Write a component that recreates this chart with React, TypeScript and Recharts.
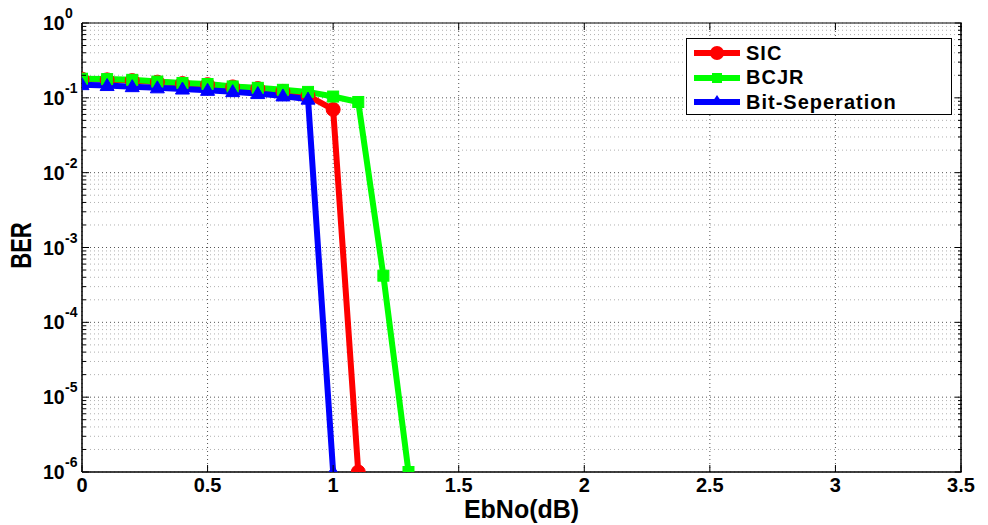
import React from 'react';
import { LineChart, Line, XAxis, YAxis, CartesianGrid, ReferenceLine, ReferenceArea } from 'recharts';

const ebno = [0, 0.1, 0.2, 0.3, 0.4, 0.5, 0.6, 0.7, 0.8, 0.9, 1.0, 1.1, 1.2, 1.3];
const sic = [0.178, 0.174, 0.17, 0.162, 0.155, 0.15, 0.14, 0.133, 0.122, 0.106, 0.07, 1e-6];
const bcjr = [0.18, 0.178, 0.174, 0.165, 0.158, 0.153, 0.142, 0.136, 0.128, 0.12, 0.104, 0.088, 4.2e-4, 1e-6];
const bitSep = [0.15, 0.146, 0.141, 0.136, 0.131, 0.126, 0.121, 0.114, 0.106, 0.096, 1e-6];

const xTicks = [0, 0.5, 1, 1.5, 2, 2.5, 3, 3.5];
const yTicks = [1e-6, 1e-5, 1e-4, 1e-3, 1e-2, 1e-1, 1];
const minorY: number[] = [];
for (let k = -6; k < 0; k++) {
  for (let m = 2; m <= 9; m++) minorY.push(m * Math.pow(10, k));
}
const allY = [...yTicks, ...minorY].sort((a, b) => a - b);

const data = ebno.map((x, i) => ({
  x,
  sic: i < sic.length ? sic[i] : undefined,
  bcjr: i < bcjr.length ? bcjr[i] : undefined,
  bit: i < bitSep.length ? bitSep[i] : undefined,
}));

const FONT = 'Liberation Sans, Arial, sans-serif';

const isMajor = (v: number) => Math.abs(Math.log10(v) - Math.round(Math.log10(v))) < 1e-6;

const YTick = (props: any) => {
  const { y, payload } = props;
  const ax = 82;
  const v = payload.value;
  const major = isMajor(v);
  const len = major ? 7 : 4;
  if (!major) {
    return <line x1={ax} y1={y} x2={ax + len} y2={y} stroke="#000" strokeWidth={1} />;
  }
  const e = Math.round(Math.log10(v));
  return (
    <g>
      <line x1={ax} y1={y} x2={ax + len} y2={y} stroke="#000" strokeWidth={1} />
      <text x={ax - 39} y={y + 7} textAnchor="start" fontFamily={FONT} fontWeight="bold" fontSize={19.5} fill="#000">10</text>
      <text x={ax - 17} y={y - 5} textAnchor="start" fontFamily={FONT} fontWeight="bold" fontSize={14} fill="#000">{e}</text>
    </g>
  );
};

const RTick = (props: any) => {
  const { y, payload } = props;
  const ax = 962;
  const len = isMajor(payload.value) ? 7 : 4;
  return <line x1={ax - len} y1={y} x2={ax} y2={y} stroke="#000" strokeWidth={1} />;
};

const XTick = (props: any) => {
  const { x, payload } = props;
  const ay = 472;
  return (
    <g>
      <line x1={x} y1={ay} x2={x} y2={ay - 7} stroke="#000" strokeWidth={1} />
      <line x1={x} y1={23} x2={x} y2={30} stroke="#000" strokeWidth={1} />
      <text x={x} y={ay + 20} textAnchor="middle" fontFamily={FONT} fontWeight="bold" fontSize={20} fill="#000">{String(payload.value)}</text>
    </g>
  );
};

const YLabel = (props: any) => {
  const vb = props.viewBox || {};
  const cy = (vb.y ?? 23) + (vb.height ?? 450) / 2;
  return (
    <text
      transform={`translate(31, ${cy - 2}) rotate(-90) scale(1, 1.3)`}
      textAnchor="middle"
      fontFamily={FONT}
      fontWeight="bold"
      fontSize={22}
      fill="#000"
    >
      BER
    </text>
  );
};

const Circle = (props: any) => {
  const { cx, cy } = props;
  if (cx == null || cy == null) return null;
  return <circle cx={cx} cy={cy} r={7} fill="#FF0000" stroke="#FF0000" />;
};
const Square = (props: any) => {
  const { cx, cy } = props;
  if (cx == null || cy == null) return null;
  return <rect x={cx - 5.5} y={cy - 5.5} width={11} height={11} fill="#00FF00" stroke="#00FF00" />;
};
const Tri = (props: any) => {
  const { cx, cy } = props;
  if (cx == null || cy == null) return null;
  return <polygon points={`${cx},${cy - 7} ${cx + 7},${cy + 5} ${cx - 7},${cy + 5}`} fill="#0000FF" stroke="#0000FF" />;
};

const legendItems = [
  { name: 'SIC', color: '#FF0000', shape: 'circle' },
  { name: 'BCJR', color: '#00FF00', shape: 'square' },
  { name: 'Bit-Seperation', color: '#0000FF', shape: 'tri' },
];

const LegendBox = () => (
  <div style={{ position: 'absolute', left: 686, top: 38, width: 266, height: 77, border: '1px solid #000', background: '#fff', boxSizing: 'border-box', paddingTop: 2 }}>
    {legendItems.map((it) => (
      <div key={it.name} style={{ display: 'flex', alignItems: 'center', height: 24.5 }}>
        <svg width={58} height={20} style={{ marginLeft: 7 }}>
          <line x1={0} y1={10} x2={46} y2={10} stroke={it.color} strokeWidth={6} />
          {it.shape === 'circle' && <circle cx={23} cy={10} r={7} fill={it.color} />}
          {it.shape === 'square' && <rect x={18} y={5} width={10} height={10} fill={it.color} />}
          {it.shape === 'tri' && <polygon points="23,3 29,12 17,12" fill={it.color} />}
        </svg>
        <span style={{ fontFamily: FONT, fontWeight: 'bold', fontSize: 20, letterSpacing: 1, color: '#000', marginLeft: -6 }}>{it.name}</span>
      </div>
    ))}
  </div>
);

export default function App() {
  return (
    <div style={{ position: 'absolute', left: 0, top: 0, width: 988, height: 525, background: '#fff' }}>
      <LineChart width={988} height={525} data={data} margin={{ top: 23, right: 26, left: 22, bottom: 0 }}>
        {minorY.map((v) => (
          <ReferenceLine key={v} yAxisId="left" y={v} stroke="#b0b0b0" strokeDasharray="1 3" strokeWidth={1} />
        ))}
        {yTicks.map((v) => (
          <ReferenceLine key={'M' + v} yAxisId="left" y={v} stroke="#555" strokeDasharray="1 3" strokeWidth={1} />
        ))}
        <CartesianGrid yAxisId="left" stroke="#555" strokeDasharray="1 3" horizontal={false} verticalValues={xTicks} />
        <XAxis
          dataKey="x"
          type="number"
          domain={[0, 3.5]}
          ticks={xTicks}
          height={53}
          tick={<XTick />}
          tickLine={false}
          axisLine={{ stroke: '#000' }}
          allowDataOverflow
          label={{ value: 'EbNo(dB)', position: 'insideBottom', offset: 7, style: { fontFamily: FONT, fontWeight: 'bold', fontSize: 25, fill: '#000' } }}
        />
        <YAxis
          yAxisId="left"
          scale="log"
          domain={[1e-6, 1]}
          ticks={allY}
          interval={0}
          width={60}
          tick={<YTick />}
          tickLine={false}
          axisLine={{ stroke: '#000' }}
          allowDataOverflow
          label={<YLabel />}
        />
        <YAxis
          yAxisId="right"
          orientation="right"
          scale="log"
          domain={[1e-6, 1]}
          ticks={allY}
          interval={0}
          width={1}
          tick={<RTick />}
          tickLine={false}
          axisLine={{ stroke: '#000' }}
          allowDataOverflow
        />
        <ReferenceArea yAxisId="left" x1={0} x2={3.5} y1={1e-6} y2={1} stroke="#000" strokeWidth={1} fill="none" fillOpacity={0} />
        <Line yAxisId="left" dataKey="sic" stroke="#FF0000" strokeWidth={6} dot={<Circle />} isAnimationActive={false} connectNulls={false} />
        <Line yAxisId="left" dataKey="bcjr" stroke="#00FF00" strokeWidth={6} dot={<Square />} isAnimationActive={false} connectNulls={false} />
        <Line yAxisId="left" dataKey="bit" stroke="#0000FF" strokeWidth={6} dot={<Tri />} isAnimationActive={false} connectNulls={false} />
      </LineChart>
      <LegendBox />
    </div>
  );
}
